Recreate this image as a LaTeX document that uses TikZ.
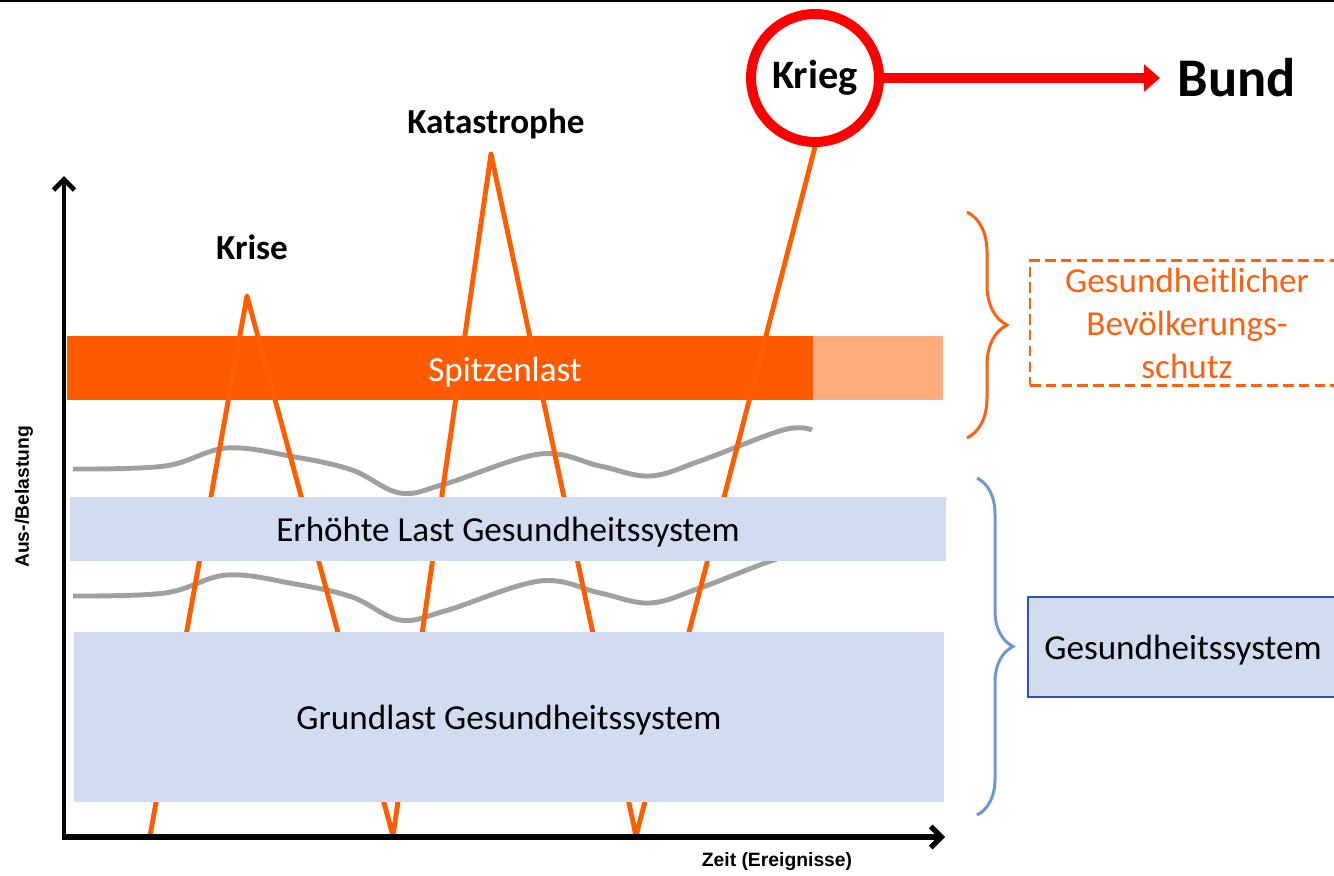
\documentclass[tikz,border=0pt]{standalone}
\usepackage{fontspec}
\setmainfont{Carlito}
\newfontfamily\achsenfont{Liberation Sans}
\usetikzlibrary{arrows.meta,decorations.pathreplacing}
\definecolor{spitz}{RGB}{255,90,0}
\definecolor{spitzhell}{RGB}{255,171,125}
\definecolor{lastblau}{RGB}{209,220,241}
\definecolor{randblau}{RGB}{47,82,168}
\definecolor{klammerblau}{RGB}{112,148,216}
\definecolor{kurvengrau}{RGB}{160,160,160}
\definecolor{zackorange}{RGB}{255,94,0}
\definecolor{textorange}{RGB}{255,96,16}
\pgfdeclarelayer{unten}
\pgfdeclarelayer{mitte}
\pgfsetlayers{unten,mitte,main}
\begin{document}
\begin{tikzpicture}[x=0.02cm,y=-0.02cm,>={Straight Barb[length=6pt,width=12pt]},
	lbl/.style={font=\fontsize{20}{24.5}\selectfont,inner sep=0pt},
	ereignis/.style={font=\fontsize{20}{24}\selectfont\bfseries,inner sep=0pt},
	achse/.style={font=\achsenfont\fontsize{11}{13}\selectfont\bfseries,inner sep=0pt},
	lastbox/.style={lbl,text depth=0pt,fill=lastblau,minimum width=#1},
	kurve/.style={kurvengrau,line width=2.8pt,smooth,tension=0.6},
	klammer/.style={line width=1.7pt,decorate,decoration={brace,amplitude=#1,aspect=0.5}}]
	\useasboundingbox (0,0) rectangle (1334,875);
	\draw[line width=1.7pt] (0,1)--(1334,1);
	\begin{pgfonlayer}{unten}
		% Spitzenlast
		\fill[spitzhell] (813,336) rectangle (943,400);
		\fill[spitz] (67,336) rectangle (813,400);
		% Auslastung
		\draw[kurve] plot coordinates {(73,469) (165,466) (227,448) (295,457) (352,470) (400,493) (445,484) (540,454) (600,466) (650,476) (700,461) (783,430) (812,430)};
		\draw[kurve,shift={(0,127)}] plot coordinates {(73,469) (165,466) (227,448) (295,457) (352,470) (400,493) (445,484) (540,454) (600,466) (650,476) (700,461) (783,430) (812,430)};
	\end{pgfonlayer}
	\node[lbl,text depth=0pt,text=white] (spitze) at (505,369) {Spitzenlast};
	% Ereignisse
	\node[ereignis] (krise) at (252,247) {Krise};
	\node[ereignis] (kata) at (496,124) {Katastrophe};
	\node[font=\fontsize{23}{26}\selectfont\bfseries,draw=red,line width=5.7pt,circle,minimum size=2.56cm,fill=white] (krieg) at (815,78) {Krieg};
	\node[font=\fontsize{31}{36}\selectfont\bfseries,anchor=west,inner sep=10pt] (bund) at (1160,78) {Bund};
	\draw[red,line width=5.7pt,-{Triangle[length=9pt,width=15pt]}] (krieg.east)--(bund.west);
	\begin{pgfonlayer}{mitte}
		\draw[zackorange,line width=2.8pt,line join=round] (150,836)--(247,296)--(393,836)--(491,154)--(636,836)--(krieg.south);
	\end{pgfonlayer}
	% Gesundheitssystem
	\node[lastbox=17.52cm,minimum height=1.28cm] (erhoeht) at (508,529) {Erhöhte Last Gesundheitssystem};
	\node[lastbox=17.4cm,minimum height=3.4cm] (grund) at (509,717) {Grundlast Gesundheitssystem};
	% Achsen
	\draw[->,line width=2.8pt] (64,839)--(64,176);
	\draw[->,line width=3pt] (62,837)--(945,837);
	\node[achse] (zeit) at (777,862) {Zeit (Ereignisse)};
	\node[achse,rotate=90] (last) at (24,497) {Aus-/Belastung};
	% Zustaendigkeit
	\draw[klammer=0.8cm,textorange] (967,212)--(967,438);
	\node[lbl,text=textorange,draw=textorange,line width=1.4pt,dash pattern=on 6pt off 3pt,align=center,minimum width=6.28cm,minimum height=2.5cm] (bevschutz) at (1187,323) {Gesundheitlicher\\Bevölkerungs-\\schutz};
	\draw[klammer=0.72cm,klammerblau] (977,478)--(977,815);
	\node[lbl,text depth=0pt,fill=lastblau,draw=randblau,line width=1.4pt,minimum width=6.2cm,minimum height=2cm] (gsys) at (1183,647) {Gesundheitssystem};
\end{tikzpicture}
\end{document}
